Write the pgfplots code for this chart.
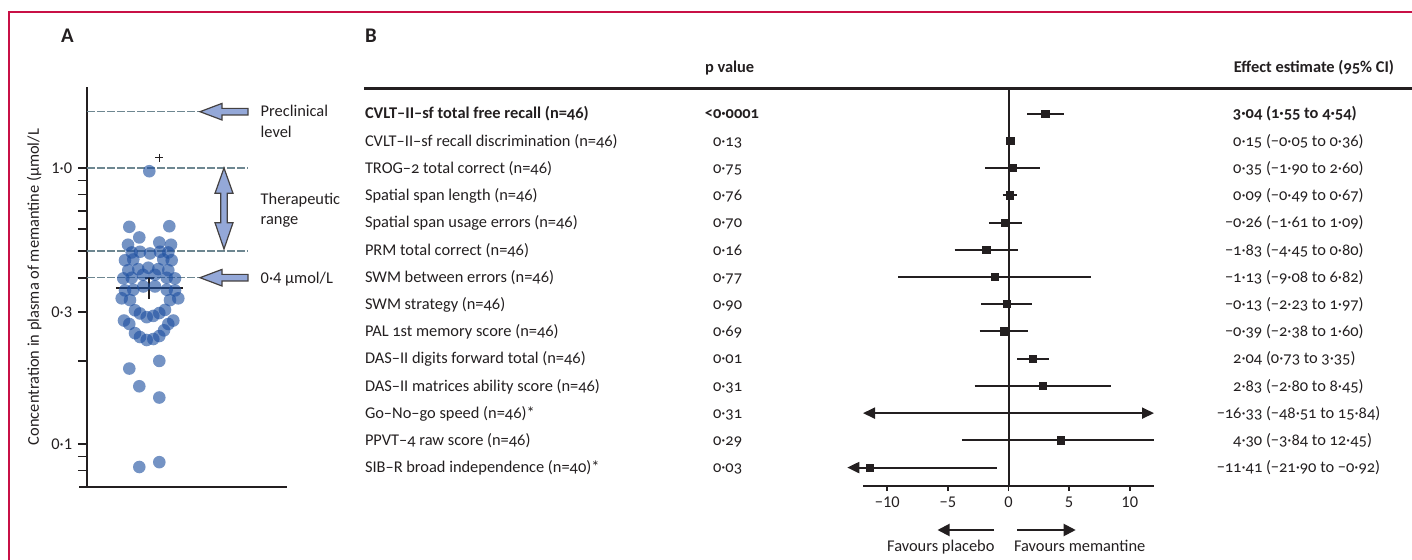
\documentclass[border=0pt]{standalone}
\usepackage{pgfplots}
\pgfplotsset{compat=1.18}
\usepackage{fontspec}
\setmainfont{Carlito}[Numbers=OldStyle]
\newfontfamily\lnfont{Carlito}
\usetikzlibrary{arrows.meta}
\definecolor{dotblue}{RGB}{30,80,160}
\definecolor{arrowfill}{RGB}{148,168,216}
\definecolor{dashgray}{RGB}{110,135,145}
\definecolor{framered}{RGB}{200,16,70}
\definecolor{txt}{RGB}{35,31,32}

\begin{document}
\fontsize{8.2}{10}\selectfont
\begin{tikzpicture}
\useasboundingbox (0,0) rectangle (706pt,-280pt);

% ---------------- Panel A ----------------
\begin{axis}[
  at={(43.5pt,-243.35pt)}, anchor=south west,
  width=100pt, height=200pt, scale only axis,
  xmin=87, xmax=287, ymode=log, ymin=0.07, ymax=1.97,
  axis x line=bottom, axis y line=left,
  axis line style={-, line width=1pt, txt},
  xtick=\empty,
  ytick={0.1,0.3,1}, yticklabels={\mbox{0·1},\mbox{0·3},\mbox{1·0}},
  minor ytick={0.08,0.09,0.2,0.4,0.5,0.6,0.7,0.8,0.9},
  tick align=outside, major tick length=4.5pt, minor tick length=4.5pt,
  tick style={txt, line width=0.8pt},
  tick label style={font=\lnfont\fontsize{8.2}{10}\selectfont, text=txt},
  clip=false,
]
\addplot[dashgray, line width=0.6pt, dash pattern=on 4pt off 1pt] coordinates {(87,1.6) (248,1.6)};
\addplot[dashgray, line width=0.6pt, dash pattern=on 4pt off 1pt] coordinates {(87,1.0) (248,1.0)};
\addplot[dashgray, line width=0.6pt, dash pattern=on 4pt off 1pt] coordinates {(87,0.5) (248,0.5)};
\addplot[dashgray, line width=0.6pt, dash pattern=on 4pt off 1pt] coordinates {(87,0.4) (248,0.4)};
\addplot[only marks, mark=*, mark size=3.15pt, draw=none, mark options={fill=dotblue, draw=dotblue, fill opacity=0.62, draw opacity=0, line width=0pt}] table {
x y
149.3 0.973
129.3 0.612
169.3 0.615
139.3 0.560
128.0 0.527
159.3 0.537
171.0 0.527
131.7 0.494
140.0 0.497
150.0 0.490
160.0 0.497
168.3 0.494
125.0 0.463
133.3 0.466
163.3 0.466
171.7 0.463
128.3 0.426
138.3 0.430
148.3 0.435
158.3 0.430
168.3 0.426
123.3 0.398
131.7 0.400
143.0 0.410
155.0 0.410
166.7 0.400
175.0 0.398
125.0 0.360
133.3 0.362
143.3 0.372
155.0 0.372
166.7 0.362
175.0 0.360
121.7 0.337
130.0 0.332
170.0 0.332
178.3 0.337
135.0 0.305
140.0 0.297
146.7 0.288
153.3 0.291
159.3 0.298
165.0 0.306
124.0 0.280
129.3 0.272
168.3 0.272
173.3 0.280
135.0 0.252
140.0 0.244
146.7 0.238
153.3 0.240
159.3 0.246
164.0 0.258
129.3 0.1876
159.3 0.1999
139.3 0.1618
159.3 0.1473
139.3 0.0825
159.3 0.0859
};
\addplot[txt, line width=1pt] coordinates {(116,0.3669) (183,0.3669)};
\addplot[txt, line width=1pt] coordinates {(149.3,0.398) (149.3,0.336)};
\addplot[txt, line width=1pt] coordinates {(144.5,0.398) (154,0.398)};
\addplot[only marks, mark=+, mark size=2pt, txt, line width=0.6pt] coordinates {(159.3,1.09)};
\end{axis}

% ---------------- Panel B ----------------
\begin{axis}[
  at={(431.5pt,-243pt)}, anchor=south west,
  width=145.5pt, height=198.5pt, scale only axis,
  xmin=-12, xmax=12, ymin=-14.677, ymax=-0.0926,
  axis x line=bottom, axis y line=none,
  axis line style={-, line width=1pt, txt},
  xtick={-10,-5,0,5,10}, xticklabels={\mbox{−10},\mbox{−5},\mbox{0},\mbox{5},\mbox{10}},
  ytick=\empty,
  tick align=outside, major tick length=2.5pt,
  tick style={txt, line width=0.8pt},
  tick label style={font=\lnfont\fontsize{8.2}{10}\selectfont, text=txt},
  clip=false,
]
\addplot[txt, line width=1pt] coordinates {(0,-0.0926) (0,-14.677)};
% confidence intervals
\addplot[txt, line width=1pt] coordinates {(1.55,-1) (4.54,-1)};
\addplot[txt, line width=1pt] coordinates {(-0.05,-2) (0.36,-2)};
\addplot[txt, line width=1pt] coordinates {(-1.90,-3) (2.60,-3)};
\addplot[txt, line width=1pt] coordinates {(-0.49,-4) (0.67,-4)};
\addplot[txt, line width=1pt] coordinates {(-1.61,-5) (1.09,-5)};
\addplot[txt, line width=1pt] coordinates {(-4.45,-6) (0.80,-6)};
\addplot[txt, line width=1pt] coordinates {(-9.08,-7) (6.82,-7)};
\addplot[txt, line width=1pt] coordinates {(-2.23,-8) (1.97,-8)};
\addplot[txt, line width=1pt] coordinates {(-2.38,-9) (1.60,-9)};
\addplot[txt, line width=1pt] coordinates {(0.73,-10) (3.35,-10)};
\addplot[txt, line width=1pt] coordinates {(-2.80,-11) (8.45,-11)};
% -48.51 to 15.84, truncated at the axis limits
\addplot[txt, line width=1pt, {Triangle[length=6pt,width=5.5pt]}-{Triangle[length=6pt,width=5.5pt]}] coordinates {(-12,-12) (12,-12)};
% -3.84 to 12.45, truncated at 12
\addplot[txt, line width=1pt] coordinates {(-3.84,-13) (12,-13)};
% -21.90 to -0.92, truncated
\addplot[txt, line width=1pt, {Triangle[length=6pt,width=5.5pt]}-] coordinates {(-13.3,-14) (-0.92,-14)};
\addplot[only marks, mark=square*, mark size=1.8pt, txt, restrict x to domain=-12.5:12.5] table {
x y
3.04 -1
0.15 -2
0.35 -3
0.09 -4
-0.26 -5
-1.83 -6
-1.13 -7
-0.13 -8
-0.39 -9
2.04 -10
2.83 -11
-16.33 -12
4.30 -13
-11.41 -14
};
\end{axis}

% ---------------- text and annotations (pixel coordinates) ----------------
\begin{scope}[x=0.5pt, y=-0.5pt, every node/.style={inner sep=0pt, outer sep=0pt, text=txt}]
\draw[framered, line width=0.6pt] (9,560) -- (9,12) -- (1412,12);
\node[anchor=base west, font=\bfseries\fontsize{10.4}{12}\selectfont] at (61,42.7) {A};
\node[anchor=base west, font=\bfseries\fontsize{10.4}{12}\selectfont] at (365,42.7) {B};
% panel A
\node[rotate=90, anchor=base] at (39,287) {Concentration in plasma of memantine (µmol/L};
\draw[txt, line width=1pt] (79,486.7) -- (88,486.7);
\filldraw[fill=arrowfill, draw=txt!85, line width=0.6pt] (200,111.7) -- (222,103.4) -- (222,108.4) -- (248,108.4) -- (248,115) -- (222,115) -- (222,120) -- cycle;
\filldraw[fill=arrowfill, draw=txt!85, line width=0.6pt] (200,277.7) -- (222,269.4) -- (222,274.4) -- (248,274.4) -- (248,281) -- (222,281) -- (222,286) -- cycle;
\filldraw[fill=arrowfill, draw=txt!85, line width=0.6pt] (224,168) -- (233,193.3) -- (227.3,193.3) -- (227.3,222.7) -- (233,222.7) -- (224,249) -- (215,222.7) -- (220.7,222.7) -- (220.7,193.3) -- (215,193.3) -- cycle;
\node[anchor=base west] at (260.7,116.7) {Preclinical};
\node[anchor=base west] at (260.7,137.3) {level};
\node[anchor=base west] at (260.7,205) {Therapeutic};
\node[anchor=base west] at (260.7,225) {range};
\node[anchor=base west] at (260.7,283.3) {{\lnfont 0·4} µmol/L};
% panel B header
\node[anchor=base west, font=\bfseries] at (705,72.7) {p value};
\node[anchor=base east, font=\bfseries] at (1394,72.7) {Effect estimate (95\% CI)};
\draw[txt, line width=1.5pt] (364,89) -- (1412,89);
% labels
\node[anchor=base west, font=\bfseries] at (365,119) {CVLT–II–sf total free recall (n=46)};
\node[anchor=base west] at (365,146.2) {CVLT–II–sf recall discrimination (n=46)};
\node[anchor=base west] at (365,173.4) {TROG–2 total correct (n=46)};
\node[anchor=base west] at (365,200.7) {Spatial span length (n=46)};
\node[anchor=base west] at (365,227.9) {Spatial span usage errors (n=46)};
\node[anchor=base west] at (365,255.1) {PRM total correct (n=46)};
\node[anchor=base west] at (365,282.3) {SWM between errors (n=46)};
\node[anchor=base west] at (365,309.5) {SWM strategy (n=46)};
\node[anchor=base west] at (365,336.8) {PAL 1st memory score (n=46)};
\node[anchor=base west] at (365,364.0) {DAS–II digits forward total (n=46)};
\node[anchor=base west] at (365,391.2) {DAS–II matrices ability score (n=46)};
\node[anchor=base west] at (365,418.4) {Go–No–go speed (n=46)*};
\node[anchor=base west] at (365,445.6) {PPVT–4 raw score (n=46)};
\node[anchor=base west] at (365,472.9) {SIB–R broad independence (n=40)*};
% p values
\node[anchor=base west, font=\bfseries] at (713,119) {\llap{<}0·0001};
\node[anchor=base west] at (713,146.2) {0·13};
\node[anchor=base west] at (713,173.4) {0·75};
\node[anchor=base west] at (713,200.7) {0·76};
\node[anchor=base west] at (713,227.9) {0·70};
\node[anchor=base west] at (713,255.1) {0·16};
\node[anchor=base west] at (713,282.3) {0·77};
\node[anchor=base west] at (713,309.5) {0·90};
\node[anchor=base west] at (713,336.8) {0·69};
\node[anchor=base west] at (713,364.0) {0·01};
\node[anchor=base west] at (713,391.2) {0·31};
\node[anchor=base west] at (713,418.4) {0·31};
\node[anchor=base west] at (713,445.6) {0·29};
\node[anchor=base west] at (713,472.9) {0·03};
% estimates
\node[anchor=base west, font=\bfseries] at (1266,119) {\llap{3·04 }(1·55 to 4·54)};
\node[anchor=base west] at (1266,146.2) {\llap{0·15 }(−0·05 to 0·36)};
\node[anchor=base west] at (1266,173.4) {\llap{0·35 }(−1·90 to 2·60)};
\node[anchor=base west] at (1266,200.7) {\llap{0·09 }(−0·49 to 0·67)};
\node[anchor=base west] at (1266,227.9) {\llap{−0·26 }(−1·61 to 1·09)};
\node[anchor=base west] at (1266,255.1) {\llap{−1·83 }(−4·45 to 0·80)};
\node[anchor=base west] at (1266,282.3) {\llap{−1·13 }(−9·08 to 6·82)};
\node[anchor=base west] at (1266,309.5) {\llap{−0·13 }(−2·23 to 1·97)};
\node[anchor=base west] at (1266,336.8) {\llap{−0·39 }(−2·38 to 1·60)};
\node[anchor=base west] at (1266,364.0) {\llap{2·04 }(0·73 to 3·35)};
\node[anchor=base west] at (1266,391.2) {\llap{2·83 }(−2·80 to 8·45)};
\node[anchor=base west] at (1266,418.4) {\llap{−16·33 }(−48·51 to 15·84)};
\node[anchor=base west] at (1266,445.6) {\llap{4·30 }(−3·84 to 12·45)};
\node[anchor=base west] at (1266,472.9) {\llap{−11·41 }(−21·90 to −0·92)};
% favours
\draw[txt, line width=1pt, -{Triangle[length=6pt,width=6pt]}] (994,530) -- (937.5,530);
\draw[txt, line width=1pt, -{Triangle[length=6pt,width=6pt]}] (1017,530) -- (1075.7,530);
\node[anchor=base east] at (994.5,551.7) {Favours placebo};
\node[anchor=base west] at (1014,551.7) {Favours memantine};
\end{scope}
\end{tikzpicture}
\end{document}
